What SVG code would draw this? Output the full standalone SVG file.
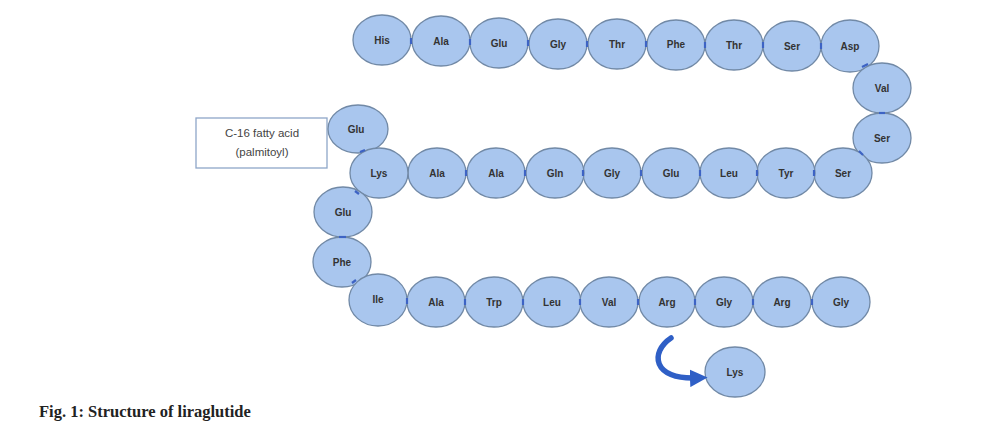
<svg xmlns="http://www.w3.org/2000/svg" width="1000" height="442" viewBox="0 0 1000 442">
<style>
.aa ellipse{fill:#a9c6ee;stroke:#7189a6;stroke-width:1.3}
.aa text{font-family:"Liberation Sans",Arial,sans-serif;font-size:10px;font-weight:bold;fill:#333;text-anchor:middle}
.bond{stroke:#3d63c4;stroke-width:2.2}
.lbl{font-family:"Liberation Sans",Arial,sans-serif;font-size:11.5px;fill:#444;text-anchor:middle}
.cap{font-family:"Liberation Serif","Times New Roman",serif;font-size:16.5px;font-weight:bold;fill:#222}
</style>
<defs>
<marker id="ah" viewBox="0 0 10 10" refX="4" refY="5" markerWidth="3.2" markerHeight="3.2" orient="auto">
<path d="M0,0 L10,5 L0,10 z" fill="#2f5fc6"/>
</marker>
</defs>
<rect width="1000" height="442" fill="#fff"/>
<g id="palmitoyl">
<rect x="196" y="118" width="131" height="50" fill="#fff" stroke="#8ea6c8" stroke-width="1.3"/>
<text class="lbl" x="262" y="137">C-16 fatty acid</text>
<text class="lbl" x="262" y="156">(palmitoyl)</text>
</g>
<g id="r1" class="aa"><ellipse cx="382" cy="40" rx="29" ry="25"/><text x="382" y="44">His</text></g>
<g id="r2" class="aa"><ellipse cx="441" cy="41" rx="29" ry="25"/><text x="441" y="45">Ala</text></g>
<g id="r3" class="aa"><ellipse cx="499" cy="43" rx="29" ry="25"/><text x="499" y="47">Glu</text></g>
<g id="r4" class="aa"><ellipse cx="558" cy="44" rx="29" ry="25"/><text x="558" y="48">Gly</text></g>
<g id="r5" class="aa"><ellipse cx="617" cy="44" rx="29" ry="25"/><text x="617" y="48">Thr</text></g>
<g id="r6" class="aa"><ellipse cx="676" cy="45" rx="29" ry="25"/><text x="676" y="48">Phe</text></g>
<g id="r7" class="aa"><ellipse cx="734" cy="45" rx="29" ry="25"/><text x="734" y="49">Thr</text></g>
<g id="r8" class="aa"><ellipse cx="792" cy="46" rx="29" ry="25"/><text x="792" y="50">Ser</text></g>
<g id="r9" class="aa"><ellipse cx="850" cy="46" rx="29" ry="26"/><text x="850" y="50">Asp</text></g>
<g id="r10" class="aa"><ellipse cx="882" cy="88" rx="29" ry="25"/><text x="882" y="92">Val</text></g>
<g id="r11" class="aa"><ellipse cx="882" cy="138" rx="29" ry="25"/><text x="882" y="142">Ser</text></g>
<g id="r12" class="aa"><ellipse cx="843" cy="173" rx="29" ry="25"/><text x="843" y="177">Ser</text></g>
<g id="r13" class="aa"><ellipse cx="786" cy="173" rx="29" ry="25"/><text x="786" y="177">Tyr</text></g>
<g id="r14" class="aa"><ellipse cx="729" cy="173" rx="29" ry="25"/><text x="729" y="177">Leu</text></g>
<g id="r15" class="aa"><ellipse cx="671" cy="173" rx="29" ry="25"/><text x="671" y="177">Glu</text></g>
<g id="r16" class="aa"><ellipse cx="612" cy="173" rx="29" ry="25"/><text x="612" y="177">Gly</text></g>
<g id="r17" class="aa"><ellipse cx="555" cy="173" rx="29" ry="25"/><text x="555" y="177">Gln</text></g>
<g id="r18" class="aa"><ellipse cx="496" cy="173" rx="29" ry="25"/><text x="496" y="177">Ala</text></g>
<g id="r19" class="aa"><ellipse cx="437" cy="173" rx="29" ry="25"/><text x="437" y="177">Ala</text></g>
<g id="r20glu" class="aa"><ellipse cx="358" cy="129" rx="30" ry="24"/><text x="356" y="133">Glu</text></g>
<g id="r20" class="aa"><ellipse cx="379" cy="173" rx="29" ry="25"/><text x="379" y="177">Lys</text></g>
<g id="r21" class="aa"><ellipse cx="343" cy="212" rx="29" ry="25"/><text x="343" y="216">Glu</text></g>
<g id="r22" class="aa"><ellipse cx="342" cy="262" rx="29" ry="25"/><text x="342" y="266">Phe</text></g>
<g id="r23" class="aa"><ellipse cx="378" cy="300" rx="29" ry="26"/><text x="378" y="303">Ile</text></g>
<g id="r24" class="aa"><ellipse cx="436" cy="302" rx="29" ry="25"/><text x="436" y="306">Ala</text></g>
<g id="r25" class="aa"><ellipse cx="494" cy="302" rx="29" ry="25"/><text x="494" y="306">Trp</text></g>
<g id="r26" class="aa"><ellipse cx="552" cy="302" rx="29" ry="25"/><text x="552" y="306">Leu</text></g>
<g id="r27" class="aa"><ellipse cx="609" cy="302" rx="29" ry="25"/><text x="609" y="306">Val</text></g>
<g id="r28" class="aa"><ellipse cx="667" cy="302" rx="28" ry="25"/><text x="667" y="306">Arg</text></g>
<g id="r29" class="aa"><ellipse cx="724" cy="302" rx="29" ry="25"/><text x="724" y="306">Gly</text></g>
<g id="r30" class="aa"><ellipse cx="782" cy="302" rx="29" ry="25"/><text x="782" y="306">Arg</text></g>
<g id="r31" class="aa"><ellipse cx="841" cy="302" rx="29" ry="25"/><text x="841" y="306">Gly</text></g>
<g id="r32" class="aa"><ellipse cx="735" cy="372" rx="30" ry="25"/><text x="735" y="376">Lys</text></g>
<g id="connectors">
<line class="bond" x1="411" y1="38" x2="411" y2="44"/>
<line class="bond" x1="470" y1="39" x2="470" y2="45"/>
<line class="bond" x1="528" y1="40" x2="528" y2="46"/>
<line class="bond" x1="587" y1="41" x2="587" y2="47"/>
<line class="bond" x1="646" y1="41" x2="646" y2="47"/>
<line class="bond" x1="705" y1="42" x2="705" y2="48"/>
<line class="bond" x1="763" y1="42" x2="763" y2="48"/>
<line class="bond" x1="821" y1="43" x2="821" y2="49"/>
<line class="bond" x1="862" y1="67" x2="868" y2="64"/>
<line class="bond" x1="879" y1="113" x2="885" y2="113"/>
<line class="bond" x1="859" y1="151" x2="863" y2="155"/>
<line class="bond" x1="814" y1="170" x2="814" y2="176"/>
<line class="bond" x1="757" y1="170" x2="757" y2="176"/>
<line class="bond" x1="700" y1="170" x2="700" y2="176"/>
<line class="bond" x1="641" y1="170" x2="641" y2="176"/>
<line class="bond" x1="583" y1="170" x2="583" y2="176"/>
<line class="bond" x1="525" y1="170" x2="525" y2="176"/>
<line class="bond" x1="466" y1="170" x2="466" y2="176"/>
<line class="bond" x1="360" y1="152" x2="365" y2="150"/>
<line class="bond" x1="355" y1="191" x2="359" y2="194"/>
<line class="bond" x1="339" y1="237" x2="346" y2="237"/>
<line class="bond" x1="352" y1="283" x2="356" y2="280"/>
<line class="bond" x1="407" y1="298" x2="407" y2="304"/>
<line class="bond" x1="465" y1="299" x2="465" y2="305"/>
<line class="bond" x1="523" y1="299" x2="523" y2="305"/>
<line class="bond" x1="580" y1="299" x2="580" y2="305"/>
<line class="bond" x1="638" y1="299" x2="638" y2="305"/>
<line class="bond" x1="695" y1="299" x2="695" y2="305"/>
<line class="bond" x1="753" y1="299" x2="753" y2="305"/>
<line class="bond" x1="812" y1="299" x2="812" y2="305"/>
<path d="M671,338 C650,352 652,380 697,378" fill="none" stroke="#2f5fc6" stroke-width="5.5" stroke-linecap="round" marker-end="url(#ah)"/>
</g>
<text class="cap" x="39" y="417">Fig. 1: Structure of liraglutide</text>
</svg>
